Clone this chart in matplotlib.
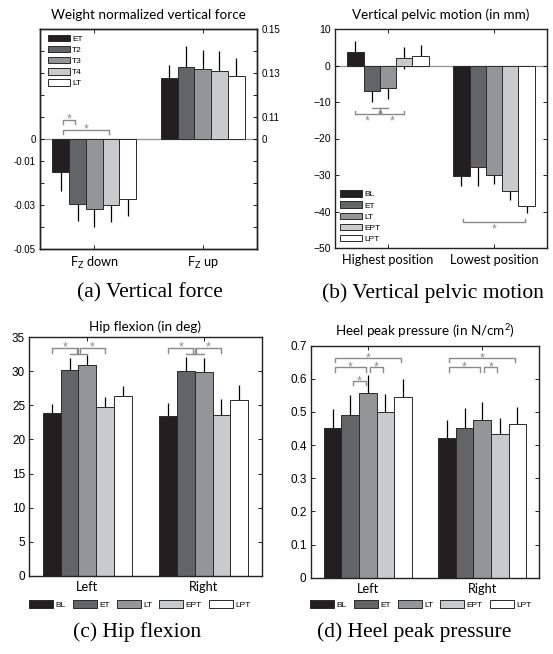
import matplotlib
matplotlib.use('Agg')
import matplotlib.pyplot as plt
from matplotlib.patches import Patch
import numpy as np

plt.rcParams['font.family'] = ['Liberation Sans', 'DejaVu Sans']
plt.rcParams['mathtext.fontset'] = 'custom'
plt.rcParams['mathtext.rm'] = 'Lato'
plt.rcParams['mathtext.it'] = 'Lato:italic'

# ---- data ----
# (a) weight normalized vertical force
force_series = ['ET', 'T2', 'T3', 'T4', 'LT']
force_groups = [r'F$_\mathregular{Z}$ down', r'F$_\mathregular{Z}$ up']
fz_down = [-0.0152, -0.0295, -0.0318, -0.0298, -0.0274]
fz_down_err = [0.0083, 0.0076, 0.0083, 0.0080, 0.0077]
fz_up = [0.1279, 0.1326, 0.1320, 0.1308, 0.1288]
fz_up_err = [0.0058, 0.0095, 0.0086, 0.0091, 0.0082]
UP_SHIFT = 0.10          # the upper half of panel (a) uses a broken right axis
force_left_labels = {0.0: '0', -0.01: '-0.01', -0.03: '-0.03', -0.05: '-0.05'}
force_right_labels = [0.15, 0.13, 0.11]

# conditions shared by (b), (c), (d)
conditions = ['BL', 'ET', 'LT', 'EPT', 'LPT']

# (b) vertical pelvic motion
pelvic_groups = ['Highest position', 'Lowest position']
pelvic_high = [3.6, -6.9, -6.2, 2.0, 2.7]
pelvic_high_err = [3.0, 3.2, 2.9, 3.0, 2.9]
pelvic_low = [-30.4, -27.8, -29.9, -34.3, -38.4]
pelvic_low_err = [2.5, 5.1, 2.6, 2.5, 2.0]

# (c) hip flexion
hip_groups = ['Left', 'Right']
hip_left = [23.9, 30.2, 30.9, 24.8, 26.4]
hip_left_err = [1.3, 1.8, 1.5, 1.5, 1.4]
hip_right = [23.5, 30.1, 29.9, 23.6, 25.8]
hip_right_err = [1.8, 2.0, 2.1, 2.3, 2.2]

# (d) heel peak pressure
heel_groups = ['Left', 'Right']
heel_left = [0.451, 0.490, 0.556, 0.501, 0.545]
heel_left_err = [0.057, 0.061, 0.056, 0.052, 0.055]
heel_right = [0.422, 0.452, 0.477, 0.435, 0.463]
heel_right_err = [0.053, 0.060, 0.053, 0.047, 0.052]

# significance comparisons: (group, bar i, bar j, bracket level)
force_sig = [(1, 0, 1, 0.0088), (1, 0, 3, 0.0042)]
pelvic_sig = [(2, 0, 4, -42.9)]
heel_sig = [(1, 0, 4, 0.663), (1, 0, 2, 0.635), (1, 2, 3, 0.635), (1, 1, 2, 0.593),
            (2, 0, 4, 0.663), (2, 0, 2, 0.635), (2, 2, 3, 0.635)]

fills = ['#231f20', '#636466', '#939598', '#c9cacc', '#ffffff']
EDGE = '#2a2a2a'
SIG = '#8a8a8a'
W = 0.77 / 5

W_PX, H_PX = 553, 654
fig = plt.figure(figsize=(W_PX / 100, H_PX / 100), dpi=100)


def px_axes(x0, y0, x1, y1):
    return fig.add_axes([x0 / W_PX, 1 - y1 / H_PX, (x1 - x0) / W_PX, (y1 - y0) / H_PX])


def pos(g, i):
    return g + (i - 2) * W


def bars(ax, g, vals, errs, shift=0.0):
    x = pos(g, np.arange(len(vals)))
    y = np.asarray(vals) - shift
    ax.errorbar(x, y, yerr=errs, fmt='none', ecolor='black', elinewidth=0.9, capsize=0, zorder=1)
    ax.bar(x, y, width=W, color=fills, edgecolor=EDGE, linewidth=0.7, zorder=2)


def bracket(ax, x1, x2, y, tick):
    ax.plot([x1, x1, x2, x2], [y - tick, y, y, y - tick], color=SIG, lw=1.0, zorder=3)


def star(ax, x, y, dy=0.0):
    ax.annotate('*', (x, y), xytext=(0, dy), textcoords='offset points', ha='center',
                va='center', color=SIG, fontsize=9, zorder=3)


def pair_sig(ax, comps, tick, dy=0.0, inset=0.02):
    for g, i, j, y in comps:
        x1, x2 = pos(g, i) + inset, pos(g, j) - inset
        bracket(ax, x1, x2, y, tick)
        star(ax, (x1 + x2) / 2, y, dy)


def combo_sig(ax, g, y, tick, link, dy=0.0):
    # ET and LT together against BL and against EPT
    mid = pos(g, 1.5)
    bracket(ax, pos(g, 0), mid - 0.01, y, tick)
    bracket(ax, mid + 0.01, pos(g, 3), y, tick)
    ax.plot([pos(g, 1), pos(g, 2)], [y - link, y - link], color=SIG, lw=1.0, zorder=3)
    ax.plot([mid, mid], [y, y - link], color=SIG, lw=1.0, zorder=3)
    star(ax, (pos(g, 0) + mid) / 2, y, dy)
    star(ax, (mid + pos(g, 3)) / 2, y, dy)


def style(ax, groups, ysize):
    ax.set_xlim(0.5, 2.5)
    ax.set_xticks([1, 2])
    ax.set_xticklabels(groups, family='Lato', fontsize=9.2)
    ax.tick_params(direction='in', length=3, width=0.6, top=True, right=True, pad=3,
                   labelsize=ysize)
    ax.tick_params(axis='x', labelsize=9.2, pad=4)
    for s in ax.spines.values():
        s.set_linewidth(1.0)
        s.set_color('#222222')


def handles():
    return [Patch(facecolor=c, edgecolor=EDGE, linewidth=0.7) for c in fills]


def title(ax, text, y_px):
    b = ax.get_position()
    fig.text(b.x0 + b.width / 2, 1 - y_px / H_PX, text, ha='center', va='center',
             family='Lato', fontsize=9.7)


def caption(text, x_px, y_px):
    fig.text(x_px / W_PX, 1 - y_px / H_PX, text, ha='center', va='center',
             family='Liberation Serif', fontsize=15.5)


# ---- (a) ----
ax = px_axes(40, 29, 257, 249)
ax.axhline(0, color='#9a9a9a', lw=1.0, zorder=0.5)
bars(ax, 1, fz_down, fz_down_err)
bars(ax, 2, fz_up, fz_up_err, UP_SHIFT)
style(ax, force_groups, 7)
ax.set_ylim(-0.05, 0.05)
ticks = np.round(np.arange(-0.05, 0.0501, 0.01), 2)
ax.set_yticks(ticks)
ax.set_yticklabels([force_left_labels.get(t, '') for t in ticks])
ax.tick_params(axis='y', right=False)
ax2 = ax.twinx()
ax2.set_ylim(ax.get_ylim())
ax2.set_yticks(ticks)
right = [f'{t + UP_SHIFT:.2f}' if np.isclose(t + UP_SHIFT, force_right_labels).any() else '' for t in ticks]
right[list(ticks).index(0.0)] = '0'
ax2.set_yticklabels(right)
ax2.tick_params(direction='in', length=3, width=0.6, labelsize=7, pad=3)
for s in ax2.spines.values():
    s.set_linewidth(1.0)
    s.set_color('#222222')
pair_sig(ax, force_sig, 0.002)
ax.legend(handles(), force_series, loc='upper left', bbox_to_anchor=(0.037, 0.975),
          frameon=False, fontsize=6, handlelength=2.6, handleheight=0.85,
          labelspacing=0.35, handletextpad=0.3, borderpad=0, borderaxespad=0)
title(ax, 'Weight normalized vertical force', 15)
caption('(a) Vertical force', 150, 293)

# ---- (b) ----
ax = px_axes(335, 29, 547, 248)
ax.axhline(0, color='#9a9a9a', lw=1.0, zorder=0.5)
bars(ax, 1, pelvic_high, pelvic_high_err)
bars(ax, 2, pelvic_low, pelvic_low_err)
style(ax, pelvic_groups, 7.5)
ax.set_ylim(-50, 10)
ax.set_yticks(np.arange(-50, 11, 10))
combo_sig(ax, 1, -13.2, -0.8, -1.6, dy=-5.5)
pair_sig(ax, pelvic_sig, -0.8, dy=-5.5)
ax.legend(handles(), conditions, loc='lower left', bbox_to_anchor=(0.024, 0.023),
          frameon=False, fontsize=6, handlelength=2.6, handleheight=0.85,
          labelspacing=0.35, handletextpad=0.3, borderpad=0, borderaxespad=0)
title(ax, 'Vertical pelvic motion (in mm)', 15)
caption('(b) Vertical pelvic motion', 433, 293)

# ---- (c) ----
ax = px_axes(29.3, 337.3, 261.7, 575.7)
bars(ax, 1, hip_left, hip_left_err)
bars(ax, 2, hip_right, hip_right_err)
style(ax, hip_groups, 8.5)
ax.set_ylim(0, 35)
ax.set_yticks(np.arange(0, 36, 5))
combo_sig(ax, 1, 33.5, 0.85, 1.0)
combo_sig(ax, 2, 33.5, 0.85, 1.0)
fig.legend(handles(), conditions, loc='center', bbox_to_anchor=(140 / W_PX, 1 - 604.7 / H_PX),
           ncol=5, frameon=False, fontsize=6, handlelength=2.9, handleheight=0.95,
           columnspacing=0.8, handletextpad=0.3, borderpad=0)
title(ax, 'Hip flexion (in deg)', 327)
caption('(c) Hip flexion', 137, 631.7)

# ---- (d) ----
ax = px_axes(310.7, 345.7, 539.3, 577.7)
bars(ax, 1, heel_left, heel_left_err)
bars(ax, 2, heel_right, heel_right_err)
style(ax, heel_groups, 8.5)
ax.set_ylim(0, 0.7)
ax.set_yticks(np.arange(0, 0.71, 0.1))
ax.yaxis.set_major_formatter(lambda v, p: f'{v:g}')
pair_sig(ax, heel_sig, 0.013)
fig.legend(handles(), conditions, loc='center', bbox_to_anchor=(421 / W_PX, 1 - 604.7 / H_PX),
           ncol=5, frameon=False, fontsize=6, handlelength=2.9, handleheight=0.95,
           columnspacing=0.8, handletextpad=0.3, borderpad=0)
title(ax, 'Heel peak pressure (in N/cm$^2$)', 331)
caption('(d) Heel peak pressure', 414.5, 631.7)

fig.savefig('out.png', dpi=100)
